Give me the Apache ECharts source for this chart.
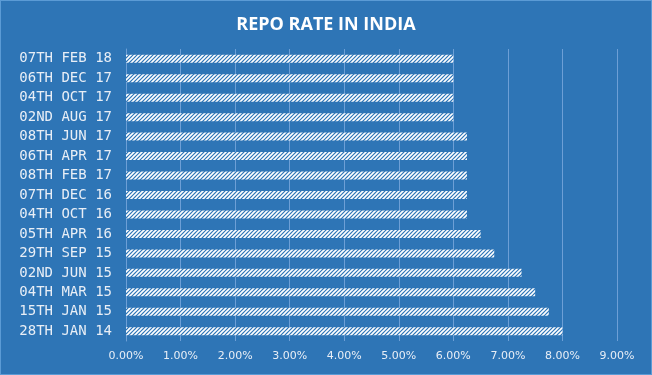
<!DOCTYPE html>
<html>
<head>
<meta charset="utf-8">
<script src="https://cdn.jsdelivr.net/npm/echarts@6/dist/echarts.min.js"></script>
<style>
  html, body { margin: 0; padding: 0; background: #2e75b6; }
  #chart { width: 650px; height: 373px; border: 1px solid #5b9bd5; }
</style>
</head>
<body>
<div id="chart"></div>
<script>
// bottom to top, as the category axis draws them
const dates = ['28TH JAN 14', '15TH JAN 15', '04TH MAR 15', '02ND JUN 15', '29TH SEP 15',
  '05TH APR 16', '04TH OCT 16', '07TH DEC 16', '08TH FEB 17', '06TH APR 17',
  '08TH JUN 17', '02ND AUG 17', '04TH OCT 17', '06TH DEC 17', '07TH FEB 18']
const repoRate = [8.00, 7.75, 7.50, 7.25, 6.75, 6.50, 6.25, 6.25, 6.25, 6.25,
  6.25, 6.00, 6.00, 6.00, 6.00]

// diagonal hatch like the excel pattern fill
function hatch() {
  const c = document.createElement('canvas')
  c.width = 4
  c.height = 4
  const ctx = c.getContext('2d')
  ctx.fillStyle = '#2e75b6'
  ctx.fillRect(0, 0, 4, 4)
  ctx.strokeStyle = '#ffffff'
  ctx.lineWidth = 1.6
  ctx.beginPath()
  ctx.moveTo(-1, 5); ctx.lineTo(5, -1)
  ctx.moveTo(-3, 3); ctx.lineTo(3, -3)
  ctx.moveTo(1, 7); ctx.lineTo(7, 1)
  ctx.stroke()
  return c
}

const chart = echarts.init(document.getElementById('chart'))
chart.setOption({
  backgroundColor: '#2e75b6',
  animation: false,
  title: {
    text: 'REPO RATE IN INDIA',
    left: 'center',
    top: 10,
    textStyle: {
      color: '#ffffff',
      fontFamily: 'Open Sans',
      fontWeight: 'bold',
      fontSize: 18
    }
  },
  grid: {
    left: 125,
    right: 34,
    top: 48,
    bottom: 33
  },
  xAxis: {
    type: 'value',
    min: 0,
    max: 9,
    interval: 1,
    axisLine: { show: false },
    axisTick: { show: false },
    axisLabel: {
      color: '#e8eef6',
      fontFamily: 'DejaVu Sans',
      fontSize: 11,
      margin: 10,
      formatter: v => v.toFixed(2) + '%'
    },
    splitLine: { lineStyle: { color: '#6d9fd6', width: 1 } }
  },
  yAxis: {
    type: 'category',
    data: dates,
    axisLine: { lineStyle: { color: '#6d9fd6' } },
    axisTick: { show: false },
    axisLabel: {
      color: '#e8eef6',
      fontFamily: 'DejaVu Sans Mono',
      fontSize: 14,
      margin: 14
    }
  },
  series: [
    {
      type: 'bar',
      data: repoRate,
      barWidth: 8,
      itemStyle: {
        color: { image: hatch(), repeat: 'repeat' }
      }
    }
  ]
})
</script>
</body>
</html>
